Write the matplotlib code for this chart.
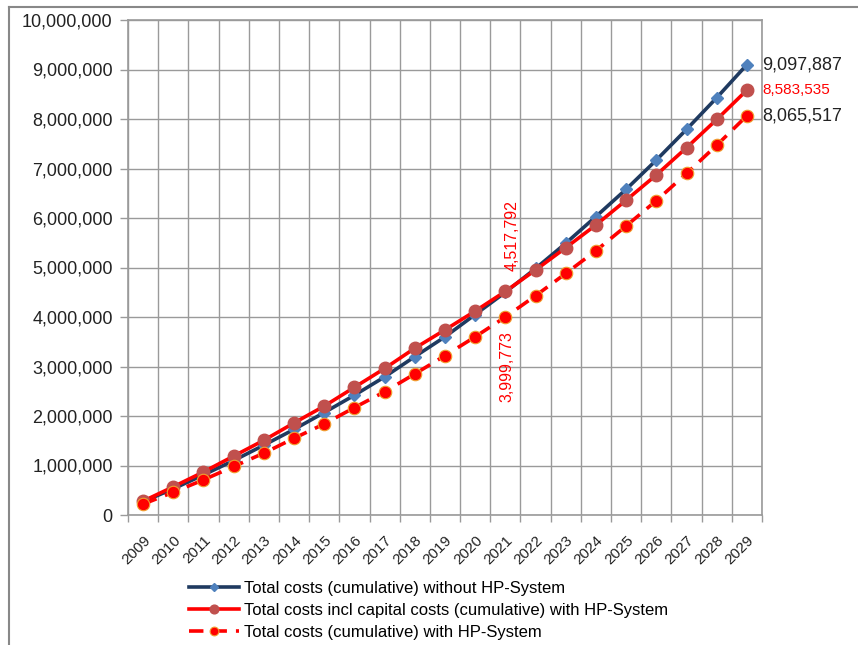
import matplotlib
matplotlib.use("Agg")
import matplotlib.pyplot as plt
from matplotlib.lines import Line2D
from matplotlib.ticker import FuncFormatter

plt.rcParams['font.family'] = ['Liberation Sans', 'DejaVu Sans']

years = [str(y) for y in range(2009, 2030)]

# cumulative costs
without_hp = [270000, 530000, 810000, 1100000, 1410000, 1730000, 2070000, 2420000,
              2790000, 3200000, 3600000, 4050000, 4500000, 4980000, 5490000, 6030000,
              6580000, 7170000, 7790000, 8430000, 9097887]
with_hp_capital = [280000, 570000, 870000, 1190000, 1510000, 1860000, 2200000, 2580000,
                   2960000, 3370000, 3740000, 4120000, 4517792, 4950000, 5400000, 5860000,
                   6360000, 6870000, 7420000, 7990000, 8583535]
with_hp = [220000, 460000, 710000, 980000, 1250000, 1550000, 1840000, 2170000,
           2490000, 2850000, 3220000, 3600000, 3999773, 4430000, 4880000, 5340000,
           5840000, 6350000, 6900000, 7470000, 8065517]

labels = ["Total costs (cumulative) without HP-System",
          "Total costs incl capital costs (cumulative) with HP-System",
          "Total costs (cumulative) with HP-System"]

fig = plt.figure(figsize=(8.58, 6.45), dpi=100)
ax = fig.add_axes([128 / 858, 1 - 515 / 645, (762 - 128) / 858, (515 - 20) / 645])

x = list(range(len(years)))
grid_c = "#9a9a9a"

ax.plot(x, without_hp, color="#1f3a60", lw=2.6, marker="D", ms=6,
        mfc="#4f81bd", mec="#4f81bd", label=labels[0], zorder=3)
ax.plot(x, with_hp_capital, color="#ff0000", lw=2.6, marker="o", ms=9,
        mfc="#c0504d", mec="#c0504d", label=labels[1], zorder=4)
ax.plot(x, with_hp, color="#ff0000", lw=2.6, ls=(0, (4, 2.5)), marker="o", ms=9,
        mfc="#ff0000", mec="#f0a030", mew=0.8, label=labels[2], zorder=4)

ax.set_xlim(-0.5, len(years) - 0.5)
ax.set_ylim(0, 10000000)
ax.set_yticks(range(0, 10000001, 1000000))
ax.yaxis.set_major_formatter(FuncFormatter(lambda v, p: f"{int(v):,}"))
ax.tick_params(axis="y", labelsize=13, length=6, width=1, color=grid_c, pad=5, labelcolor="#222222")

ax.set_xticks(x)
ax.set_xticklabels(years, rotation=45, ha="right", va="top", rotation_mode="anchor")
ax.set_xticks([i - 0.5 for i in range(len(years) + 1)], minor=True)
ax.tick_params(axis="x", which="major", length=0, labelsize=11, pad=13, labelcolor="#222222")
ax.tick_params(axis="x", which="minor", length=5, width=1, color=grid_c)

ax.grid(True, axis="y", color=grid_c, lw=1)
ax.grid(True, axis="x", which="minor", color=grid_c, lw=1)
ax.set_axisbelow(True)
for s in ax.spines.values():
    s.set_color(grid_c)
    s.set_linewidth(1.2)

# end-of-line values
ax.annotate("9,097,887", (20, without_hp[-1]), xytext=(11, 0), textcoords="offset points",
            va="center", fontsize=13, color="#222222", annotation_clip=False)
ax.annotate("8,583,535", (20, with_hp_capital[-1]), xytext=(11, 0), textcoords="offset points",
            va="center", fontsize=11, color="#ff0000", annotation_clip=False)
ax.annotate("8,065,517", (20, with_hp[-1]), xytext=(11, 0), textcoords="offset points",
            va="center", fontsize=13, color="#222222", annotation_clip=False)

# break-even values at 2021
ax.annotate("4,517,792", (12, with_hp_capital[12]), xytext=(5, 15), textcoords="offset points",
            rotation=90, ha="center", va="bottom", fontsize=11.5, color="#ff0000")
ax.annotate("3,999,773", (12, with_hp[12]), xytext=(1, -10), textcoords="offset points",
            rotation=90, ha="center", va="top", fontsize=11.5, color="#ff0000")

fig.legend(loc="upper left", bbox_to_anchor=(189 / 858, 1 - 581 / 645), frameon=False,
           fontsize=12, handlelength=3.0, handletextpad=0.3, labelspacing=0.42,
           borderpad=0, borderaxespad=0, numpoints=1, markerscale=0.7)

# outer chart border
fig.add_artist(Line2D([9 / 858, 9 / 858], [0, 1 - 7 / 645], color="#888888", lw=1.5))
fig.add_artist(Line2D([9 / 858, 1], [1 - 7 / 645, 1 - 7 / 645], color="#888888", lw=1.5))

fig.savefig("out.png", dpi=100)
